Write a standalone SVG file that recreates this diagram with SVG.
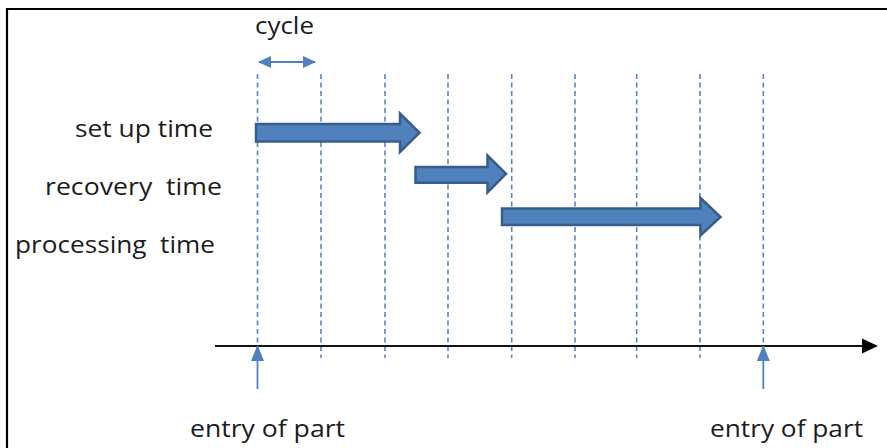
<svg xmlns="http://www.w3.org/2000/svg" width="887" height="448" viewBox="0 0 887 448">
  <style>
    .lbl { font-family: "Open Sans", "Liberation Sans", sans-serif; font-size: 23px; fill: #1c1c1c; white-space: pre; }
    .grid { stroke: #5587c6; stroke-width: 1.6; stroke-dasharray: 5 3.5; fill: none; }
    .block { fill: #4f81bd; stroke: #385d8a; stroke-width: 2.5; stroke-linejoin: miter; }
    .blue { stroke: #4f81bd; stroke-width: 1.8; fill: none; }
  </style>
  <defs>
    <!-- small head for the cycle span -->
    <marker id="spanhead" viewBox="0 0 13 12" refX="12" refY="6" markerWidth="13" markerHeight="12" markerUnits="userSpaceOnUse" orient="auto-start-reverse">
      <path d="M0,0 L13,6 L0,12 Z" fill="#4f81bd"/>
    </marker>
    <!-- head for the part-entry pointers -->
    <marker id="entryhead" viewBox="0 0 16 13" refX="15" refY="6.5" markerWidth="16" markerHeight="13" markerUnits="userSpaceOnUse" orient="auto">
      <path d="M0,0 L16,6.5 L0,13 Z" fill="#4f81bd"/>
    </marker>
  </defs>

  <rect width="887" height="448" fill="#fff"/>
  <!-- frame -->
  <path d="M7,448 V9 H887" fill="none" stroke="#000" stroke-width="2.2"/>

  <!-- cycle grid -->
  <g id="grid">
    <line class="grid" x1="257.5" y1="74" x2="257.5" y2="358"/>
    <line class="grid" x1="321" y1="74" x2="321" y2="358"/>
    <line class="grid" x1="385" y1="74" x2="385" y2="358"/>
    <line class="grid" x1="448" y1="74" x2="448" y2="358"/>
    <line class="grid" x1="511.7" y1="74" x2="511.7" y2="358"/>
    <line class="grid" x1="575" y1="74" x2="575" y2="358"/>
    <line class="grid" x1="636.7" y1="74" x2="636.7" y2="358"/>
    <line class="grid" x1="700" y1="74" x2="700" y2="358"/>
    <line class="grid" x1="763.3" y1="74" x2="763.3" y2="358"/>
  </g>

  <g id="connectors">
    <!-- time axis -->
    <line x1="215" y1="346" x2="864" y2="346" stroke="#111" stroke-width="2"/>
    <path d="M862,338.5 L878,346 L862,353.5 Z" fill="#000"/>
    <!-- cycle width -->
    <line class="blue" x1="259" y1="62" x2="315" y2="62" marker-start="url(#spanhead)" marker-end="url(#spanhead)"/>
    <!-- entry markers -->
    <line class="blue" x1="257.5" y1="389" x2="257.5" y2="346" marker-end="url(#entryhead)"/>
    <line class="blue" x1="763.3" y1="389" x2="763.3" y2="346" marker-end="url(#entryhead)"/>
  </g>

  <g id="setup">
    <path class="block" d="M256,124 H400 V113.5 L419.5,132.8 L400,152 V141.5 H256 Z"/>
    <text class="lbl" x="75" y="136.5" textLength="138" lengthAdjust="spacingAndGlyphs">set up time</text>
  </g>
  <g id="recovery">
    <path class="block" d="M415.5,167 H487.5 V155.5 L506,173.8 L487.5,192.5 V182.8 H415.5 Z"/>
    <text class="lbl" x="45" y="195" textLength="177" lengthAdjust="spacingAndGlyphs">recovery  time</text>
  </g>
  <g id="processing">
    <path class="block" d="M502,208.5 H700.5 V198 L720.5,217 L700.5,235.5 V225 H502 Z"/>
    <text class="lbl" x="15" y="253" textLength="200" lengthAdjust="spacingAndGlyphs">processing  time</text>
  </g>
  <g id="cycle">
    <text class="lbl" x="255" y="34" textLength="59" lengthAdjust="spacingAndGlyphs">cycle</text>
  </g>
  <g id="entry-start">
    <text class="lbl" x="190" y="437" textLength="155" lengthAdjust="spacingAndGlyphs">entry of part</text>
  </g>
  <g id="entry-end">
    <text class="lbl" x="710" y="437" textLength="153" lengthAdjust="spacingAndGlyphs">entry of part</text>
  </g>
</svg>
